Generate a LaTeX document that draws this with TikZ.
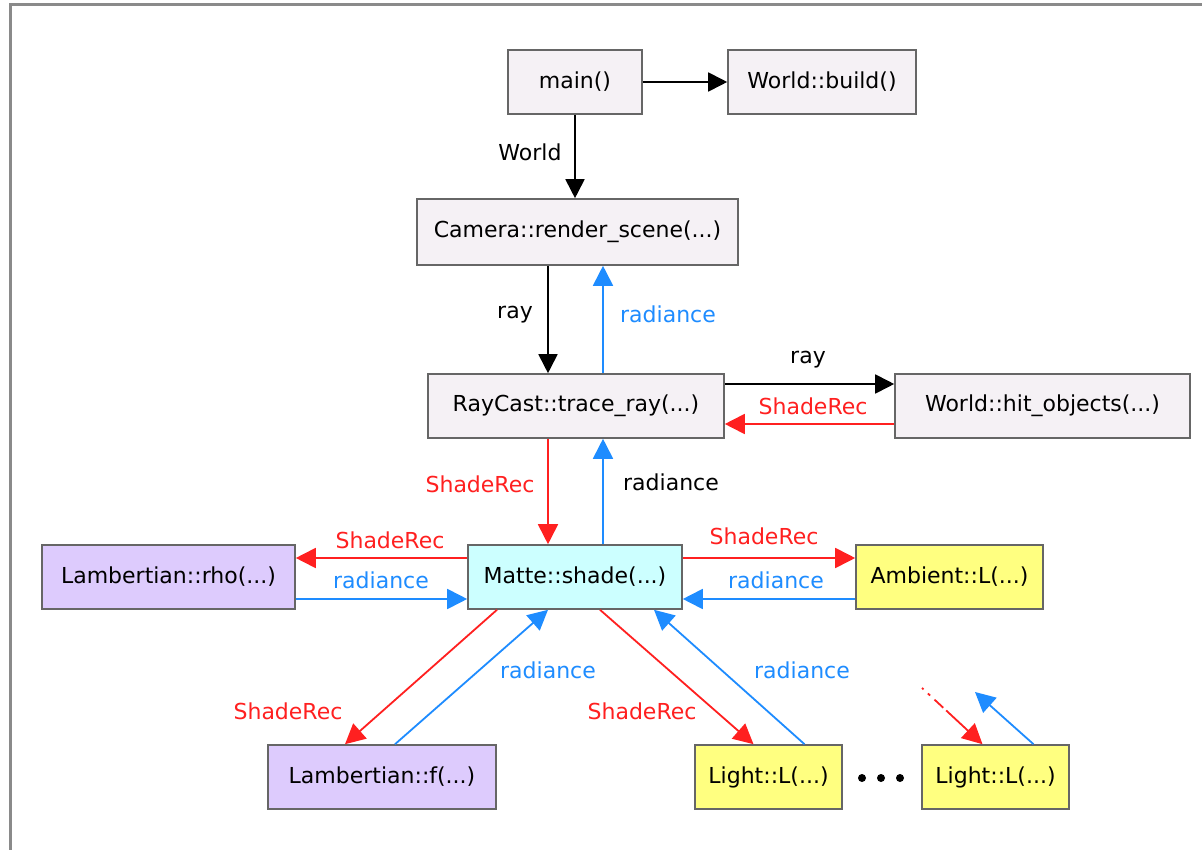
\documentclass[tikz,border=0pt]{standalone}
\usepackage{fontspec}
\setmainfont{DejaVu Sans}
\usetikzlibrary{arrows.meta,calc}
\definecolor{boxfill}{HTML}{F5F1F5}
\definecolor{boxline}{HTML}{666666}
\definecolor{cyanfill}{HTML}{CCFFFF}
\definecolor{purplefill}{HTML}{DDCBFD}
\definecolor{yellowfill}{HTML}{FFFF80}
\definecolor{myred}{HTML}{FF2020}
\definecolor{myblue}{HTML}{1E8CFF}
\definecolor{framegray}{HTML}{8A8A8A}
\tikzset{
  fbox/.style={draw=boxline, line width=1.6pt, fill=boxfill, minimum height=64pt, inner sep=0pt, font=\fontsize{22}{26}\selectfont},
  arr/.style={line width=1.8pt, -{Triangle[length=19pt,width=19pt]}},
  blk/.style={arr, draw=black},
  rd/.style={arr, draw=myred, -{Triangle[length=20pt,width=20pt,fill=myred]}},
  bl/.style={arr, draw=myblue, -{Triangle[length=20pt,width=20pt,fill=myblue]}},
  lab/.style={font=\fontsize{22}{26}\selectfont, inner sep=0pt},
}
\begin{document}
\begin{tikzpicture}[x=1pt,y=-1pt]
\useasboundingbox (0,0) rectangle (1202,850);
\fill[white] (0,0) rectangle (1202,850);
% frame
\draw[framegray, line width=3pt] (10,850) -- (10,5) -- (1202,5);

% nodes
\node[fbox, minimum width=134pt] (main) at (575,82) {main()};
\node[fbox, minimum width=188pt] (wb) at (822,82) {World::build()};
\node[fbox, minimum width=321pt, minimum height=66pt] (cam) at (577.5,232) {Camera::render\_scene(...)};
\node[fbox, minimum width=296pt] (rc) at (576,406) {RayCast::trace\_ray(...)};
\node[fbox, minimum width=295pt] (hw) at (1042.5,406) {World::hit\_objects(...)};
\node[fbox, fill=cyanfill, minimum width=214pt] (mt) at (575,577) {Matte::shade(...)};
\node[fbox, fill=purplefill, minimum width=253pt] (rho) at (168.5,577) {Lambertian::rho(...)};
\node[fbox, fill=yellowfill, minimum width=187pt] (amb) at (949.5,577) {Ambient::L(...)};
\node[fbox, fill=purplefill, minimum width=228pt] (lf) at (382,777) {Lambertian::f(...)};
\node[fbox, fill=yellowfill, minimum width=147pt] (l1) at (768.5,777) {Light::L(...)};
\node[fbox, fill=yellowfill, minimum width=147pt] (l2) at (995.5,777) {Light::L(...)};

% dots
\foreach \i/\xx in {1/862,2/881,3/900}
  \fill (\xx,778) circle (4pt);

% helper coordinates
\coordinate (xA) at (548,0);
\coordinate (xB) at (603,0);
\coordinate (yA) at (0,384);
\coordinate (yB) at (0,424);
\coordinate (yC) at (0,558);
\coordinate (yD) at (0,599);

% top arrows
\draw[blk] (main.east) -- (wb.west);
\draw[blk] (main.south) -- (main.south |- cam.north);
\node[lab] (lw) at (530,152) {World};

% camera <-> raycast
\draw[blk] (cam.south -| xA) -- (rc.north -| xA);
\node[lab] (lray1) at (515,315) {ray};
\draw[bl] (rc.north -| xB) -- (cam.south -| xB);
\node[lab, myblue] (lrad1) at (668,314) {radiance};

% raycast <-> hit objects
\draw[blk] (rc.east |- yA) -- (hw.west |- yA);
\node[lab] (lray2) at (808,360) {ray};
\draw[rd] (hw.west |- yB) -- (rc.east |- yB);
\node[lab, myred] (lsr1) at (813,406) {ShadeRec};

% raycast <-> matte
\draw[rd] (rc.south -| xA) -- (mt.north -| xA);
\node[lab, myred] (lsr2) at (480,484) {ShadeRec};
\draw[bl] (mt.north -| xB) -- (rc.south -| xB);
\node[lab] (lrad2) at (671,482) {radiance};

% matte <-> rho
\draw[rd] (mt.west |- yC) -- (rho.east |- yC);
\node[lab, myred] (lsr3) at (390,540) {ShadeRec};
\draw[bl] (rho.east |- yD) -- (mt.west |- yD);
\node[lab, myblue] (lrad3) at (381,580) {radiance};

% matte <-> ambient
\draw[rd] (mt.east |- yC) -- (amb.west |- yC);
\node[lab, myred] (lsr4) at (764,536) {ShadeRec};
\draw[bl] (amb.west |- yD) -- (mt.east |- yD);
\node[lab, myblue] (lrad4) at (776,580) {radiance};

% matte <-> lambertian f
\draw[rd] ([xshift=-78pt]mt.south) -- ([xshift=-37pt]lf.north);
\node[lab, myred] (lsr5) at (288,711) {ShadeRec};
\draw[bl] ([xshift=13pt]lf.north) -- ([xshift=-27pt]mt.south);
\node[lab, myblue] (lrad5) at (548,670) {radiance};

% matte <-> light 1
\draw[rd] ([xshift=25pt]mt.south) -- ([xshift=-15pt]l1.north);
\node[lab, myred] (lsr6) at (642,711) {ShadeRec};
\draw[bl] ([xshift=36pt]l1.north) -- ([xshift=79pt]mt.south);
\node[lab, myblue] (lrad6) at (802,670) {radiance};

% light 2 partial arrows
\coordinate (r2) at (922,688);
\coordinate (b2) at (975,692);
\draw[rd, dash pattern=on 2pt off 6pt on 3pt off 6pt on 12pt off 4pt on 200pt] (r2) -- ([xshift=-13pt]l2.north);
\draw[bl] ([xshift=38pt]l2.north) -- (b2);
\end{tikzpicture}
\end{document}
